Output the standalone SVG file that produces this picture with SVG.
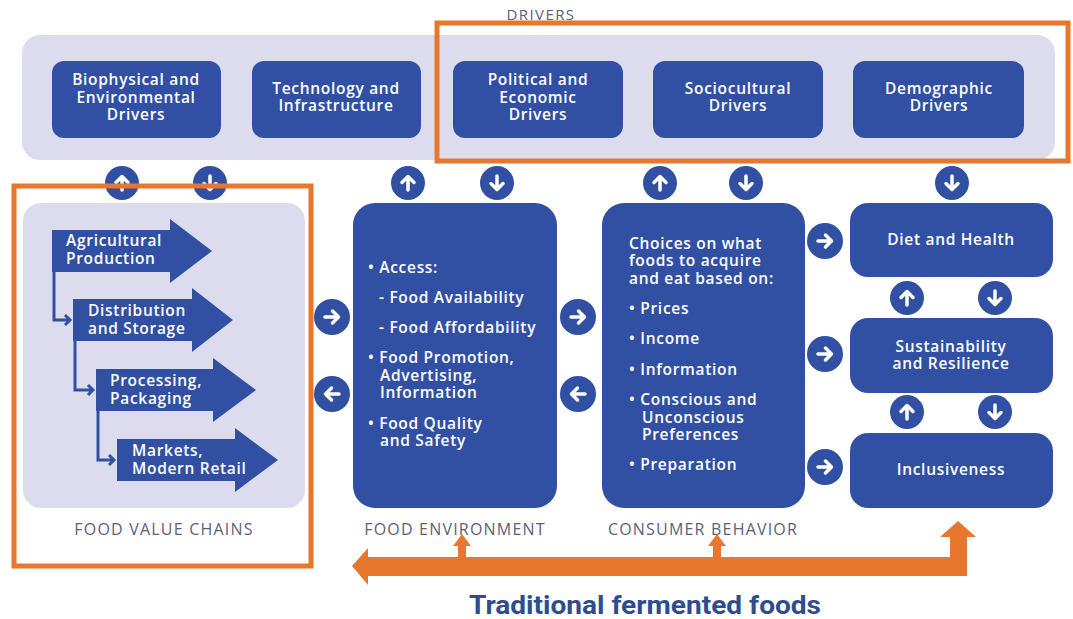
<svg xmlns="http://www.w3.org/2000/svg" width="1073" height="619" viewBox="0 0 1073 619">
  <style>
    .panel { fill: #dcdcee; }
    .box { fill: #3150a3; }
    .node-text { font-family: "Open Sans", Lato, "DejaVu Sans", sans-serif; font-weight: 600; font-size: 15.5px; letter-spacing: 0.7px; fill: #ffffff; }
    .mid { text-anchor: middle; }
    .label { font-family: "Open Sans", Lato, "DejaVu Sans", sans-serif; font-size: 16px; letter-spacing: 1.2px; fill: #5c6178; text-anchor: middle; }
    .hl { fill: none; stroke: #e8772e; stroke-width: 5; }
    .bubble { fill: #3150a3; }
    .glyph { fill: none; stroke: #ffffff; stroke-width: 3.5; stroke-linecap: round; stroke-linejoin: round; }
    .link { fill: none; stroke: #3150a3; stroke-width: 3; stroke-linejoin: miter; }
    .band { fill: #e8772e; }
  </style>
  <defs>
    <!-- white arrow pointing right, centred on the origin -->
    <g id="arw">
      <path class="glyph" d="M-7,0 H6 M0.5,-6 L6.5,0 L0.5,6"/>
    </g>
  </defs>

  <rect width="1073" height="619" fill="#ffffff"/>

  <!-- drivers band -->
  <g id="drivers">
    <text x="541" y="20" class="label" style="font-size:15px;letter-spacing:1.4px">DRIVERS</text>
    <rect class="panel" x="22" y="35" width="1033" height="125" rx="18"/>
  </g>

  <g id="biophysical">
    <rect class="box" x="52" y="61" width="169" height="77" rx="12"/>
    <text class="node-text mid" x="136"><tspan x="136" y="85">Biophysical and</tspan><tspan x="136" y="103">Environmental</tspan><tspan x="136" y="120">Drivers</tspan></text>
  </g>
  <g id="technology">
    <rect class="box" x="252" y="61" width="169" height="77" rx="12"/>
    <text class="node-text mid" x="336"><tspan x="336" y="94">Technology and</tspan><tspan x="336" y="111">Infrastructure</tspan></text>
  </g>
  <g id="political">
    <rect class="box" x="453" y="61" width="170" height="77" rx="12"/>
    <text class="node-text mid" x="538"><tspan x="538" y="85">Political and</tspan><tspan x="538" y="103">Economic</tspan><tspan x="538" y="120">Drivers</tspan></text>
  </g>
  <g id="sociocultural">
    <rect class="box" x="653" y="61" width="170" height="77" rx="12"/>
    <text class="node-text mid" x="738"><tspan x="738" y="94">Sociocultural</tspan><tspan x="738" y="111">Drivers</tspan></text>
  </g>
  <g id="demographic">
    <rect class="box" x="853" y="61" width="171" height="77" rx="12"/>
    <text class="node-text mid" x="939"><tspan x="939" y="94">Demographic</tspan><tspan x="939" y="111">Drivers</tspan></text>
  </g>

  <!-- food value chains -->
  <g id="food-value-chains">
    <rect class="panel" x="23" y="203" width="282" height="305" rx="18"/>
    <text class="label" x="164" y="535">FOOD VALUE CHAINS</text>
  </g>
  <g id="agricultural">
    <polygon class="box" points="52,230 170,230 170,219 212,251 170,283 170,272 52,272"/>
    <text class="node-text" x="66"><tspan x="66" y="246">Agricultural</tspan><tspan x="66" y="264">Production</tspan></text>
  </g>
  <g id="distribution">
    <polygon class="box" points="73,299 192,299 192,288 233,320 192,352 192,341 73,341"/>
    <text class="node-text" x="88"><tspan x="88" y="316">Distribution</tspan><tspan x="88" y="334">and Storage</tspan></text>
  </g>
  <g id="processing">
    <polygon class="box" points="96,369 213,369 213,358 256,390 213,422 213,411 96,411"/>
    <text class="node-text" x="110"><tspan x="110" y="386">Processing,</tspan><tspan x="110" y="404">Packaging</tspan></text>
  </g>
  <g id="markets">
    <polygon class="box" points="117,439 235,439 235,428 278,460 235,492 235,481 117,481"/>
    <text class="node-text" x="132"><tspan x="132" y="456">Markets,</tspan><tspan x="132" y="474">Modern Retail</tspan></text>
  </g>

  <!-- food environment -->
  <g id="food-environment">
    <rect class="box" x="353" y="203" width="204" height="305" rx="22"/>
    <text class="node-text" x="368"><tspan x="368" y="273">• Access:</tspan><tspan x="379" y="303">- Food Availability</tspan><tspan x="379" y="333">- Food Affordability</tspan><tspan x="368" y="363">• Food Promotion,</tspan><tspan x="380" y="381">Advertising,</tspan><tspan x="380" y="398">Information</tspan><tspan x="368" y="429">• Food Quality</tspan><tspan x="380" y="446">and Safety</tspan></text>
    <text class="label" x="455" y="535">FOOD ENVIRONMENT</text>
  </g>

  <!-- consumer behavior -->
  <g id="consumer-behavior">
    <rect class="box" x="602" y="203" width="203" height="305" rx="22"/>
    <text class="node-text" x="629"><tspan x="629" y="249">Choices on what</tspan><tspan x="629" y="266">foods to acquire</tspan><tspan x="629" y="284">and eat based on:</tspan><tspan x="629" y="314">• Prices</tspan><tspan x="629" y="344">• Income</tspan><tspan x="629" y="375">• Information</tspan><tspan x="629" y="405">• Conscious and</tspan><tspan x="642" y="423">Unconscious</tspan><tspan x="642" y="440">Preferences</tspan><tspan x="629" y="470">• Preparation</tspan></text>
    <text class="label" x="703" y="535">CONSUMER BEHAVIOR</text>
  </g>

  <!-- outcomes -->
  <g id="diet-health">
    <rect class="box" x="850" y="203" width="203" height="74" rx="18"/>
    <text class="node-text mid" x="951" y="245">Diet and Health</text>
  </g>
  <g id="sustainability">
    <rect class="box" x="850" y="318" width="203" height="75" rx="18"/>
    <text class="node-text mid" x="951"><tspan x="951" y="352">Sustainability</tspan><tspan x="951" y="369">and Resilience</tspan></text>
  </g>
  <g id="inclusiveness">
    <rect class="box" x="850" y="433" width="203" height="75" rx="18"/>
    <text class="node-text mid" x="951" y="475">Inclusiveness</text>
  </g>

  <g id="connectors">
    <!-- links between value chain stages -->
    <path class="link" d="M54,272 V320 H70 M65,315 L70,320 L65,325"/>
    <path class="link" d="M75,341 V390 H93 M88,385 L93,390 L88,395"/>
    <path class="link" d="M98,411 V460 H114 M109,455 L114,460 L109,465"/>

    <!-- driver exchange bubbles -->
    <g>
      <circle class="bubble" cx="122" cy="183" r="17"/><use href="#arw" transform="translate(122,183) rotate(-90)"/>
      <circle class="bubble" cx="210" cy="183" r="17"/><use href="#arw" transform="translate(210,183) rotate(90)"/>
      <circle class="bubble" cx="408" cy="183" r="17"/><use href="#arw" transform="translate(408,183) rotate(-90)"/>
      <circle class="bubble" cx="497" cy="183" r="17"/><use href="#arw" transform="translate(497,183) rotate(90)"/>
      <circle class="bubble" cx="660" cy="183" r="17"/><use href="#arw" transform="translate(660,183) rotate(-90)"/>
      <circle class="bubble" cx="746" cy="183" r="17"/><use href="#arw" transform="translate(746,183) rotate(90)"/>
      <circle class="bubble" cx="952" cy="183" r="17"/><use href="#arw" transform="translate(952,183) rotate(90)"/>
    </g>

    <!-- horizontal exchange bubbles -->
    <g>
      <circle class="bubble" cx="332" cy="317" r="18"/><use href="#arw" transform="translate(332,317)"/>
      <circle class="bubble" cx="332" cy="394" r="18"/><use href="#arw" transform="translate(332,394) rotate(180)"/>
      <circle class="bubble" cx="578" cy="317" r="18"/><use href="#arw" transform="translate(578,317)"/>
      <circle class="bubble" cx="578" cy="394" r="18"/><use href="#arw" transform="translate(578,394) rotate(180)"/>
      <circle class="bubble" cx="825" cy="241" r="18"/><use href="#arw" transform="translate(825,241)"/>
      <circle class="bubble" cx="825" cy="354" r="18"/><use href="#arw" transform="translate(825,354)"/>
      <circle class="bubble" cx="825" cy="467" r="18"/><use href="#arw" transform="translate(825,467)"/>
    </g>

    <!-- outcome exchange bubbles -->
    <g>
      <circle class="bubble" cx="907" cy="298" r="17"/><use href="#arw" transform="translate(907,298) rotate(-90)"/>
      <circle class="bubble" cx="995" cy="298" r="17"/><use href="#arw" transform="translate(995,298) rotate(90)"/>
      <circle class="bubble" cx="907" cy="412" r="17"/><use href="#arw" transform="translate(907,412) rotate(-90)"/>
      <circle class="bubble" cx="995" cy="412" r="17"/><use href="#arw" transform="translate(995,412) rotate(90)"/>
    </g>

    <!-- fermented foods feedback band -->
    <path class="band" d="M352,566 L368,548 L368,557 L458,557 L458,546 L453,546 L462,534 L471,546 L466,546 L466,557 L713,557 L713,546 L708,546 L717,534 L726,546 L721,546 L721,557 L950,557 L950,537 L940,537 L958,521 L976,537 L967,537 L967,576 L368,576 L368,585 Z"/>
  </g>

  <!-- highlight frames -->
  <g id="highlights">
    <rect class="hl" x="437" y="23" width="631" height="138"/>
    <rect class="hl" x="14" y="186" width="297" height="380"/>
  </g>

  <text x="645" y="614" text-anchor="middle" font-family="Roboto, 'Liberation Sans', sans-serif" font-weight="700" font-size="25" fill="#2e4d8f" textLength="352" lengthAdjust="spacingAndGlyphs">Traditional fermented foods</text>
</svg>
